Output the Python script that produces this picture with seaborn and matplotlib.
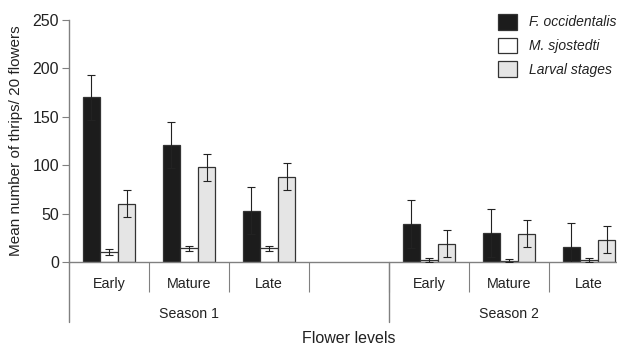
import matplotlib
matplotlib.use("Agg")
import matplotlib.pyplot as plt
import matplotlib.transforms as mtransforms
import numpy as np
import pandas as pd
import seaborn as sns

# ---- data ----
seasons = ["Season 1", "Season 2"]
levels = ["Early", "Mature", "Late"]
species = ["F. occidentalis", "M. sjostedti", "Larval stages"]
f_occ_mean = [170, 121, 53, 39, 30, 16]
f_occ_err = [23.5, 24, 24, 25, 25, 24]
m_sjo_mean = [10, 14, 14, 2, 1.5, 2]
m_sjo_err = [3, 3, 2.5, 2, 1.5, 2]
larval_mean = [60, 98, 88, 19, 29, 23]
larval_err = [14, 14, 14, 14, 14, 14]
yticks = [0, 50, 100, 150, 200, 250]
colors = ["#1c1c1c", "#ffffff", "#e5e5e5"]
ylabel = "Mean number of thrips/ 20 flowers"
xlabel = "Flower levels"

sns.set_style("ticks")
plt.rcParams["font.family"] = ["Liberation Sans", "DejaVu Sans"]
plt.rcParams["font.size"] = 10

slots = [f"{s}|{l}" for s in seasons for l in levels]
order = slots[:3] + ["gap"] + slots[3:]
rows = []
for sp, means, errs in zip(species, [f_occ_mean, m_sjo_mean, larval_mean],
                           [f_occ_err, m_sjo_err, larval_err]):
    for slot, m, e in zip(slots, means, errs):
        rows.append(dict(slot=slot, species=sp, mean=m, err=e))
df = pd.DataFrame(rows)

spine_c = "#808080"
text_c = "#222222"

fig = plt.figure(figsize=(6.17, 3.47), dpi=100)
ax = fig.add_axes([69 / 617, 85 / 347, (617 - 69) / 617, 242 / 347])
sns.barplot(data=df, x="slot", y="mean", hue="species", order=order,
            hue_order=species, palette=colors, width=0.66, errorbar=None,
            edgecolor="#333333", linewidth=0.9, saturation=1, ax=ax)

# error bars on top of each bar
containers = list(ax.containers)
for cont, sp in zip(containers, species):
    sub = df[df.species == sp].set_index("slot")
    bars = [b for b in cont.patches if np.isfinite(b.get_height())]
    bars = sorted(bars, key=lambda p: p.get_x())
    xs = [b.get_x() + b.get_width() / 2 for b in bars]
    ys = [b.get_height() for b in bars]
    ax.errorbar(xs, ys, yerr=sub.loc[slots, "err"].values, fmt="none",
                ecolor="#222222", elinewidth=0.8, capsize=3, capthick=0.8,
                zorder=5)

ax.set_xlim(-0.5, -0.5 + 548 / 80)
ax.set_ylim(0, 250)
ax.set_yticks(yticks)
ax.set_yticklabels([str(v) for v in yticks])

ax.set_xticks(range(len(order)))
ax.set_xticklabels(levels + [""] + levels)
ax.set_xticks([i + 0.5 for i in range(len(order) - 1)], minor=True)
ax.tick_params(axis="x", which="major", length=0, pad=10.5, labelsize=10.3,
               labelcolor=text_c)
ax.tick_params(axis="x", which="minor", length=21.6, width=0.8,
               color=spine_c, direction="out")
ax.tick_params(axis="y", length=5, width=0.8, color=spine_c, pad=2.2,
               labelsize=11.5, labelcolor=text_c, direction="out")

for s in ["top", "right"]:
    ax.spines[s].set_visible(False)
for s in ["left", "bottom"]:
    ax.spines[s].set_color(spine_c)
    ax.spines[s].set_linewidth(1.0)

ax.set_xlabel("")
ax.set_ylabel(ylabel, fontsize=11, color=text_c, labelpad=7)

trans = mtransforms.blended_transform_factory(ax.transData, ax.transAxes)
for xb in [-0.5, 3.5]:
    ax.plot([xb, xb], [0, -60 / 242], transform=trans, clip_on=False,
            color=spine_c, lw=1.0)
ax.text(1, -52.5 / 242, seasons[0], transform=trans, ha="center", va="center",
        fontsize=10.2, color=text_c)
ax.text(5, -52.5 / 242, seasons[1], transform=trans, ha="center", va="center",
        fontsize=10.2, color=text_c)
ax.text(3, -76.5 / 242, xlabel, transform=trans, ha="center", va="center",
        fontsize=11.5, color=text_c)

sns.move_legend(ax, "upper left", bbox_to_anchor=(498 / 617, 1 - 14 / 347),
                bbox_transform=fig.transFigure, frameon=False, title=None,
                handlelength=1.35, handleheight=1.35, labelspacing=0.58,
                handletextpad=0.85, borderpad=0, borderaxespad=0, fontsize=10)
leg = ax.get_legend()
for t in leg.get_texts():
    t.set_style("italic")
    t.set_color(text_c)

fig.savefig("out.png", dpi=100)
